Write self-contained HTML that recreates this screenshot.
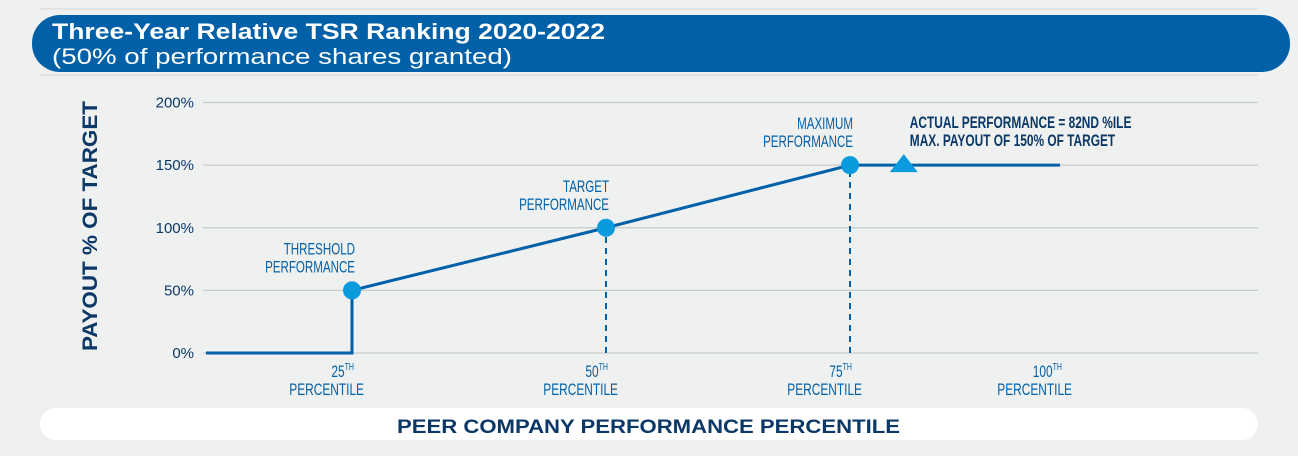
<!DOCTYPE html>
<html><head><meta charset="utf-8"><style>
html,body{margin:0;padding:0;background:#eff1f1;}
svg{display:block;}
.nar{font-family:"Liberation Sans",sans-serif;}
</style></head><body>
<svg id="chart" width="1298" height="456" viewBox="0 0 1298 456" xmlns="http://www.w3.org/2000/svg">
<rect width="1298" height="456" fill="#eff1f1"/>
<line x1="40" y1="9" x2="1258" y2="9" stroke="#d4d7d8"/>
<line x1="40" y1="75" x2="1258" y2="75" stroke="#d4d7d8"/>
<rect x="32" y="15" width="1258" height="57" rx="28" fill="#0060a8"/>
<text x="52" y="39" font-family="Liberation Sans, sans-serif" font-weight="bold" font-size="22" fill="#fff" textLength="553" lengthAdjust="spacingAndGlyphs">Three-Year Relative TSR Ranking 2020-2022</text>
<text x="52" y="64" font-family="Liberation Sans, sans-serif" font-size="22" fill="#fff" textLength="460" lengthAdjust="spacingAndGlyphs">(50% of performance shares granted)</text>
<text transform="translate(97,226) rotate(-90)" text-anchor="middle" font-family="Liberation Sans, sans-serif" font-weight="bold" font-size="21" fill="#0b3866" textLength="250" lengthAdjust="spacingAndGlyphs">PAYOUT % OF TARGET</text>
<g id="grid"></g><g id="marks"></g><g id="labels"></g>
<rect x="40" y="408" width="1218" height="32" rx="16" fill="#fff"/>
<text x="397" y="433" font-family="Liberation Sans, sans-serif" font-weight="bold" font-size="19" fill="#0b3866" textLength="503" lengthAdjust="spacingAndGlyphs">PEER COMPANY PERFORMANCE PERCENTILE</text>
</svg>
<script>
const yTicks=[0,50,100,150,200];
const xTicks=[25,50,75,100];
const xTickOrd=["TH","TH","TH","TH"];
const linePct=[0,25,25,50,75,100];
const linePay=[0,0,50,100,150,150];
const pointPct=[25,50,75];
const pointPay=[50,100,150];
const pointLabel1=["THRESHOLD","TARGET","MAXIMUM"];
const pointLabel2=["PERFORMANCE","PERFORMANCE","PERFORMANCE"];
const actualPct=[82];
const actualPay=[150];
const NS="http://www.w3.org/2000/svg";
const xd=[0,25,50,75,100], xr=[206,352,606,850,1060];
function X(p){for(let i=0;i<xd.length-1;i++){if(p<=xd[i+1]||i==xd.length-2){return xr[i]+(p-xd[i])/(xd[i+1]-xd[i])*(xr[i+1]-xr[i]);}}}
function Y(v){return 353-v*1.2525;}
function mk(t,a,par){const e=document.createElementNS(NS,t);for(const k in a)e.setAttribute(k,a[k]);document.getElementById(par).appendChild(e);return e;}
function narrow(e,f){const w=e.getComputedTextLength();e.setAttribute('textLength',(w*f).toFixed(1));e.setAttribute('lengthAdjust','spacingAndGlyphs');}
yTicks.forEach(v=>{
 const l=mk('line',{x1:203,x2:1258,y1:Y(v),y2:Y(v),stroke:'#c8cbcc','stroke-width':1.2},'grid');
 
 
 const t=mk('text',{x:194,y:Y(v)+5,'text-anchor':'end','font-family':'Liberation Sans, sans-serif','font-size':15,fill:'#0b3866'},'grid');
 t.textContent=v+'%';
 
 
});
xTicks.forEach((p,i)=>{
 const g=mk('text',{x:X(p)+2,y:377,'text-anchor':'end','font-size':17,fill:'#0060a8',class:'nar'},'labels');
 g.innerHTML=p+'<tspan font-size="10" dy="-7">'+xTickOrd[i]+'</tspan>';
 
 
 narrow(g,0.7);
 const t=mk('text',{x:X(p)+12,y:395,'text-anchor':'end','font-size':17,fill:'#0060a8',class:'nar'},'labels');
 t.textContent='PERCENTILE';
 
 
 narrow(t,0.7);
});
pointPct.slice(1).forEach(p=>{
 const d=mk('line',{x1:X(p),x2:X(p),y1:Y(0),y2:Y(pointPay[pointPct.indexOf(p)]),stroke:'#0060a8','stroke-width':2,'stroke-dasharray':'6 5'},'marks');
 
 
});
const pts=linePct.map((p,i)=>X(p)+','+Y(linePay[i])).join(' ');
const pl=mk('polyline',{points:pts,fill:'none',stroke:'#0060a8','stroke-width':3},'marks');


pointPct.forEach((p,i)=>{
 const c=mk('circle',{cx:X(p),cy:Y(pointPay[i]),r:9,fill:'#0a9ade'},'marks');
 
 
 const a=mk('text',{x:X(p)+3,y:Y(pointPay[i])-36,'text-anchor':'end','font-size':17,fill:'#0060a8',class:'nar'},'labels');
 a.textContent=pointLabel1[i];
 
 
 narrow(a,0.68);
 const b=mk('text',{x:X(p)+3,y:Y(pointPay[i])-18,'text-anchor':'end','font-size':17,fill:'#0060a8',class:'nar'},'labels');
 b.textContent=pointLabel2[i];
 
 
 narrow(b,0.68);
});
actualPct.forEach((p,i)=>{
 const x=X(p)-5,y=Y(actualPay[i]);
 const tr=mk('polygon',{points:(x-14)+','+(y+7)+' '+x+','+(y-11)+' '+(x+14)+','+(y+7),fill:'#0a9ade'},'marks');
 
 
 const a=mk('text',{x:x+6,y:y-37,'font-size':17,'font-weight':'bold',fill:'#0b3866',class:'nar'},'labels');
 a.textContent='ACTUAL PERFORMANCE = '+p+'ND %ILE';
 
 
 narrow(a,0.7);
 const b=mk('text',{x:x+6,y:y-19,'font-size':17,'font-weight':'bold',fill:'#0b3866',class:'nar'},'labels');
 b.textContent='MAX. PAYOUT OF '+actualPay[i]+'% OF TARGET';
 
 
 narrow(b,0.7);
});
</script>
</body></html>
